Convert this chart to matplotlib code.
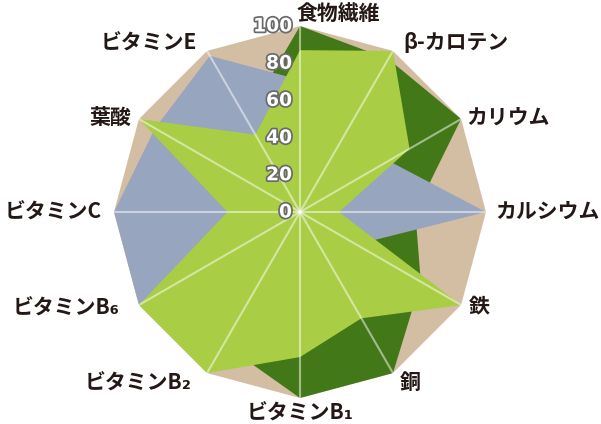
import numpy as np
import matplotlib.pyplot as plt
import matplotlib.patheffects as pe

plt.rcParams['font.family'] = ['Noto Sans CJK JP', 'DejaVu Sans']

# 項目 (時計回り、上から)
labels = ['食物繊維', 'β-カロテン', 'カリウム', 'カルシウム', '鉄', '銅',
          'ビタミンB₁', 'ビタミンB₂', 'ビタミンB₆', 'ビタミンC', '葉酸', 'ビタミンE']
# 3系列 (描画順: 奥→手前)
dark_green = [100, 95, 100, 62, 75, 100, 100, 82, 60, 50, 50, 58]
blue_gray = [71, 60, 55, 100, 35, 40, 50, 80, 100, 100, 90, 97]
light_green = [87, 100, 68, 21, 100, 66, 78, 100, 100, 39, 100, 48]
ticks = [0, 20, 40, 60, 80, 100]

# ラベル位置 (pixel offset, ha)
lab_pos = [(-3, 13, 'left'), (10, 8, 'left'), (5, 1, 'left'), (9, 0, 'left'),
           (8, -1, 'left'), (7, -9, 'left'), (0, -15, 'center'), (-15, -10, 'right'),
           (-19, -3, 'right'), (-12, 0, 'right'), (-8, 2, 'right'), (-10, 8, 'right')]

n = len(labels)
theta = np.arange(n) * 2 * np.pi / n
tc = np.append(theta, theta[0])

def close(v):
    return np.append(v, v[0])

fig = plt.figure(figsize=(6.01, 4.24), dpi=100)
ax = fig.add_axes([114 / 601, 26 / 424, 372 / 601, 372 / 424], projection='polar')
ax.set_theta_zero_location('N')
ax.set_theta_direction(-1)
ax.set_ylim(0, 100)
ax.set_axis_off()

# 背景の12角形
ax.fill(tc, close([100] * n), color='#D3BEA4', lw=0, zorder=1)
ax.fill(tc, close(dark_green), color='#437818', lw=0, zorder=2)
ax.fill(tc, close(blue_gray), color='#97A5BF', lw=0, zorder=3)
ax.fill(tc, close(light_green), color='#A9CD45', lw=0, zorder=4)

for t in theta:
    ax.plot([t, t], [0, 100], color='white', alpha=0.5, lw=1.5, zorder=5)

for t, lab, (dx, dy, ha) in zip(theta, labels, lab_pos):
    ax.annotate(lab, xy=(t, 100), xytext=(dx, dy), textcoords='offset pixels',
                ha=ha, va='center', fontsize=15, fontweight='bold', color='#231815',
                zorder=7, annotation_clip=False)

for v in ticks:
    ax.annotate(str(v), xy=(0, v), xytext=(-8, 0), textcoords='offset pixels',
                ha='right', va='center', fontsize=13.5, fontweight='bold',
                family='DejaVu Sans', color='white', zorder=8,
                path_effects=[pe.withStroke(linewidth=2.5, foreground='#6a6a6a')])

fig.savefig('out.png', dpi=100)
